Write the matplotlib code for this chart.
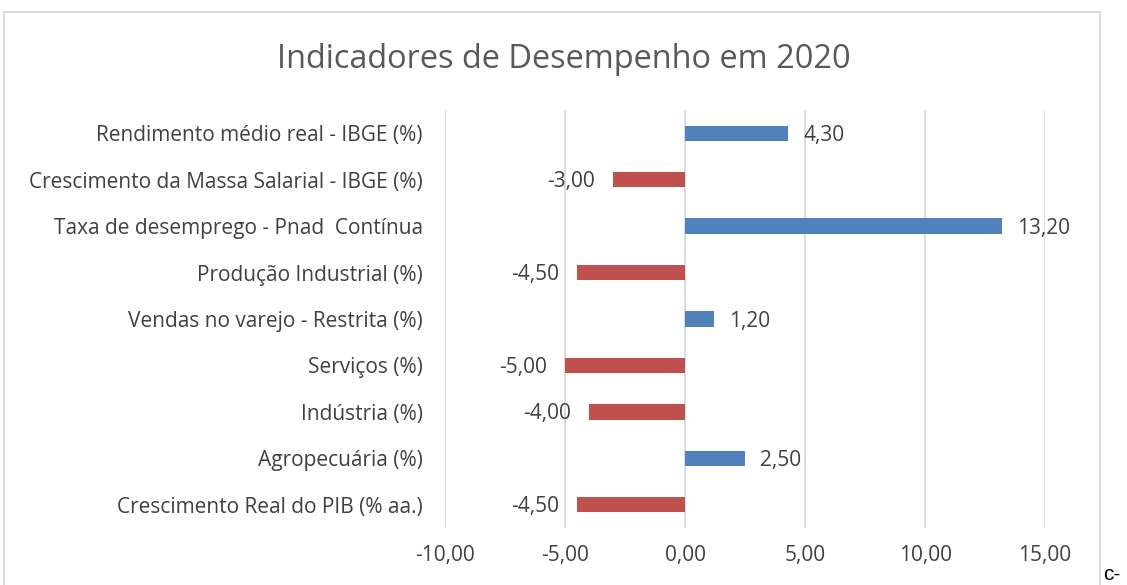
import matplotlib
matplotlib.use("Agg")
import matplotlib.pyplot as plt
from matplotlib.patches import Rectangle

# categories from top to bottom, as in the reference
categories = [
    "Rendimento médio real - IBGE (%)",
    "Crescimento da Massa Salarial - IBGE (%)",
    "Taxa de desemprego - Pnad  Contínua",
    "Produção Industrial (%)",
    "Vendas no varejo - Restrita (%)",
    "Serviços (%)",
    "Indústria (%)",
    "Agropecuária (%)",
    "Crescimento Real do PIB (% aa.)",
]
values = [4.30, -3.00, 13.20, -4.50, 1.20, -5.00, -4.00, 2.50, -4.50]
xticks = [-10, -5, 0, 5, 10, 15]

blue = "#4F81BD"
red = "#C0504D"
txt = "#404040"
fs = 15

plt.rcParams["font.family"] = ["Open Sans", "DejaVu Sans"]


def fmt(v):
    return f"{v:.2f}".replace(".", ",")


fig = plt.figure(figsize=(11.27, 5.85), dpi=100)
ax = fig.add_axes([0.3949, 0.0974, 0.5324, 0.7146])

ypos = list(range(len(categories)))[::-1]
colors = [blue if v >= 0 else red for v in values]
ax.barh(ypos, values, height=0.33, color=colors, zorder=3)

for y, v in zip(ypos, values):
    if v >= 0:
        ax.annotate(fmt(v), (v, y), xytext=(11, -1.5), textcoords="offset points",
                    ha="left", va="center", fontsize=fs, color=txt)
    else:
        ax.annotate(fmt(v), (v, y), xytext=(-13, -1.5), textcoords="offset points",
                    ha="right", va="center", fontsize=fs, color=txt)

ax.set_xlim(-10, 15)
ax.set_ylim(-0.5, len(categories) - 0.5)
ax.set_xticks(xticks)
ax.set_xticklabels([fmt(t) for t in xticks], fontsize=fs, color=txt)
ax.set_yticks(ypos)
ax.set_yticklabels(categories, fontsize=fs, color=txt)
ax.tick_params(axis="both", length=0)
ax.tick_params(axis="x", pad=12)
ax.tick_params(axis="y", pad=16)
ax.grid(axis="x", color="#D9D9D9", linewidth=1.3, zorder=0)
for s in ax.spines.values():
    s.set_visible(False)

fig.text(0.5, 0.898, "Indicadores de Desempenho em 2020", ha="center", va="center",
         fontsize=23.4, color="#595959")

# chart frame
fig.patches.append(Rectangle((4 / 1127, -0.05), 1096 / 1127, 1.05 - 12 / 585,
                             transform=fig.transFigure, fill=False,
                             edgecolor="#D9D9D9", linewidth=1.3))
fig.text(1103 / 1127, 0.002, "c-", fontsize=15, color="black", ha="left", va="bottom",
         family=["Liberation Sans", "DejaVu Sans"])

fig.savefig("out.png", dpi=100)
